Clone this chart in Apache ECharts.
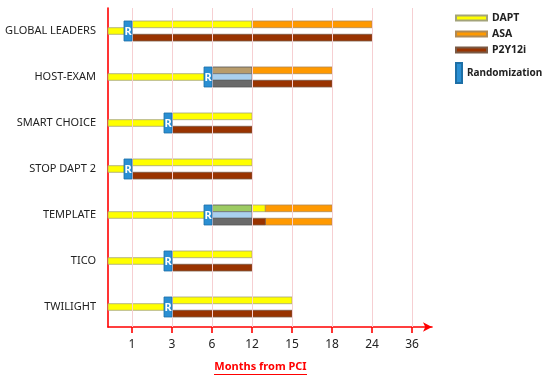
<!DOCTYPE html>
<html>
<head>
<meta charset="utf-8">
<script src="https://cdn.jsdelivr.net/npm/echarts@6/dist/echarts.min.js"></script>
<style>
html,body{margin:0;padding:0;background:#fff;}
#chart{width:550px;height:383px;}
</style>
</head>
<body>
<div id="chart"></div>
<script>
// ---------- data ----------
const trials = ['GLOBAL LEADERS', 'HOST-EXAM', 'SMART CHOICE', 'STOP DAPT 2', 'TEMPLATE', 'TICO', 'TWILIGHT'];
const tickMonths = [1, 3, 6, 12, 15, 18, 24, 36];
const randomizationMonth = [1, 6, 3, 1, 6, 3, 3];
// [trialIndex, lane, startMonth, endMonth]  lane: 'top' | 'mid' | 'bottom'
const daptSegments = [[0, 'top', 1, 12], [2, 'top', 3, 12], [3, 'top', 1, 12], [4, 'top', 12, 13], [5, 'top', 3, 12], [6, 'top', 3, 15]];
const asaSegments = [[0, 'top', 12, 24], [1, 'top', 12, 18], [4, 'top', 13, 18], [4, 'bottom', 13, 18]];
const p2y12Segments = [[0, 'bottom', 1, 24], [1, 'bottom', 12, 18], [2, 'bottom', 3, 12], [3, 'bottom', 1, 12], [4, 'bottom', 12, 13], [5, 'bottom', 3, 12], [6, 'bottom', 3, 15]];
// experimental arms during months 6-12 (HOST-EXAM, TEMPLATE)
const armTopSegments = [[1, 'top', 6, 12], [4, 'top', 6, 12]];
const armMidSegments = [[1, 'mid', 6, 12], [4, 'mid', 6, 12]];
const armBottomSegments = [[1, 'bottom', 6, 12], [4, 'bottom', 6, 12]];

// ---------- scale helpers ----------
const X_MIN = 0.4, X_MAX = 8.5;
function monthToPos(m) {
  const pts = [[0, X_MIN]].concat(tickMonths.map((t, i) => [t, i + 1]));
  for (let i = 1; i < pts.length; i++) {
    if (m <= pts[i][0]) {
      const a = pts[i - 1], b = pts[i];
      return a[1] + (m - a[0]) / (b[0] - a[0]) * (b[1] - a[1]);
    }
  }
  return pts[pts.length - 1][1];
}
const LANE = { pre: 0, top: 1, mid: 2, bottom: 3 };
const LANE_PX = [[-3.3, 3.3], [-10, -3.3], [-3.3, 3.3], [3.3, 10]];
function toData(segs) {
  return segs.map(s => [monthToPos(s[2]), monthToPos(s[3]), s[0], LANE[s[1]]]);
}
const preData = randomizationMonth.map((m, i) => [monthToPos(0), monthToPos(m), i, LANE.pre]);

function renderBar(params, api) {
  const y = api.value(2);
  const p0 = api.coord([api.value(0), y]);
  const p1 = api.coord([api.value(1), y]);
  const ln = LANE_PX[api.value(3)];
  return {
    type: 'rect',
    shape: { x: p0[0], y: p0[1] + ln[0], width: p1[0] - p0[0], height: ln[1] - ln[0] },
    style: api.style()
  };
}
function renderRand(params, api) {
  const p = api.coord([api.value(0), api.value(1)]);
  return {
    type: 'group',
    children: [
      { type: 'rect', shape: { x: p[0] - 8, y: p[1] - 10, width: 8, height: 20 },
        style: { fill: '#2a8fd3', stroke: '#1d6fa6', lineWidth: 0.8 } },
      { type: 'text', style: { text: 'R', x: p[0] - 4, y: p[1] + 0.5, fill: '#ffffff',
        font: 'bold 11px "Noto Sans"', align: 'center', verticalAlign: 'middle' } }
    ]
  };
}
const barBase = { type: 'custom', renderItem: renderBar, encode: { x: [0, 1], y: 2 }, z: 3, silent: true };
const topColors = { 1: '#b89c6c', 4: '#9ccb63' };

const chart = echarts.init(document.getElementById('chart'), null, { renderer: 'canvas' });
const FONT = '"Noto Sans", sans-serif';
chart.setOption({
  animation: false,
  backgroundColor: '#ffffff',
  grid: { left: 108, right: 118, top: 8, bottom: 56 },
  xAxis: {
    type: 'value', min: X_MIN, max: X_MAX,
    axisLine: { show: true, onZero: false, symbol: ['none', 'arrow'], symbolSize: [7, 9], lineStyle: { color: '#ff0000', width: 1.6 } },
    axisTick: { show: true, customValues: tickMonths.map((t, i) => i + 1), length: 6, lineStyle: { color: '#ff0000', width: 1.6 } },
    axisLabel: { show: true, customValues: tickMonths.map((t, i) => i + 1), formatter: v => String(tickMonths[Math.round(v) - 1]),
      margin: 12, color: '#222', fontSize: 12, fontFamily: FONT },
    splitLine: { show: false }
  },
  yAxis: {
    type: 'value', inverse: true, min: -0.5, max: 6.435,
    axisLine: { show: true, onZero: false, lineStyle: { color: '#ff0000', width: 1.6 } },
    axisTick: { show: false },
    axisLabel: { show: true, customValues: trials.map((t, i) => i), formatter: v => trials[Math.round(v)] || '',
      margin: 12, color: '#222', fontSize: 11, fontFamily: FONT },
    splitLine: { show: false }
  },
  legend: [
    { orient: 'vertical', left: 455, top: 11, padding: 0, itemWidth: 31, itemHeight: 5, itemGap: 2, itemTextGap: 5,
      icon: 'rect', selectedMode: false,
      textStyle: { fontWeight: 'bold', fontSize: 10.5, color: '#222', fontFamily: FONT, lineHeight: 14 },
      data: ['DAPT', 'ASA', 'P2Y12i'] },
    { orient: 'vertical', left: 455, top: 62, padding: 0, itemWidth: 6, itemHeight: 20, itemTextGap: 6,
      icon: 'rect', selectedMode: false,
      textStyle: { fontWeight: 'bold', fontSize: 10, color: '#222', fontFamily: FONT },
      data: ['Randomization'] }
  ],
  graphic: [
    { type: 'text', style: { text: 'Months from PCI', x: 260.5, y: 367, fill: '#ff0000',
      font: 'bold 11px "Noto Sans", sans-serif', align: 'center', verticalAlign: 'middle' } },
    { type: 'line', shape: { x1: 214, y1: 374.5, x2: 307, y2: 374.5 }, style: { stroke: '#ff0000', lineWidth: 1 } }
  ],
  series: [
    { type: 'line', data: [], z: 1, silent: true,
      markLine: { silent: true, symbol: 'none', label: { show: false },
        lineStyle: { color: '#f6cfd2', type: 'solid', width: 1 },
        data: tickMonths.map((t, i) => ({ xAxis: i + 1 })) } },
    Object.assign({}, barBase, { name: 'DAPT', itemStyle: { color: '#ffff00', borderColor: '#a3a37a', borderWidth: 0.8 },
      data: preData.concat(toData(daptSegments)) }),
    Object.assign({}, barBase, { name: 'ASA', itemStyle: { color: '#ff9900', borderColor: '#b08a55', borderWidth: 0.8 },
      data: toData(asaSegments) }),
    Object.assign({}, barBase, { name: 'P2Y12i', itemStyle: { color: '#993300', borderColor: '#7a5a45', borderWidth: 0.8 },
      data: toData(p2y12Segments) }),
    Object.assign({}, barBase, { name: 'armTop', itemStyle: { borderColor: '#555', borderWidth: 0.8 },
      data: toData(armTopSegments).map((d, i) => ({ value: d, itemStyle: { color: topColors[armTopSegments[i][0]] } })) }),
    Object.assign({}, barBase, { name: 'armMid', itemStyle: { color: '#a9d0ef', borderColor: '#777', borderWidth: 0.8 },
      data: toData(armMidSegments) }),
    Object.assign({}, barBase, { name: 'armBottom', itemStyle: { color: '#6a6a6a', borderColor: '#555', borderWidth: 0.8 },
      data: toData(armBottomSegments) }),
    { type: 'custom', name: 'Randomization', renderItem: renderRand, encode: { x: 0, y: 1 }, z: 5, silent: true,
      itemStyle: { color: '#2a8fd3', borderColor: '#1d6fa6', borderWidth: 0.8 },
      data: randomizationMonth.map((m, i) => [monthToPos(m), i]) }
  ]
});
</script>
</body>
</html>
